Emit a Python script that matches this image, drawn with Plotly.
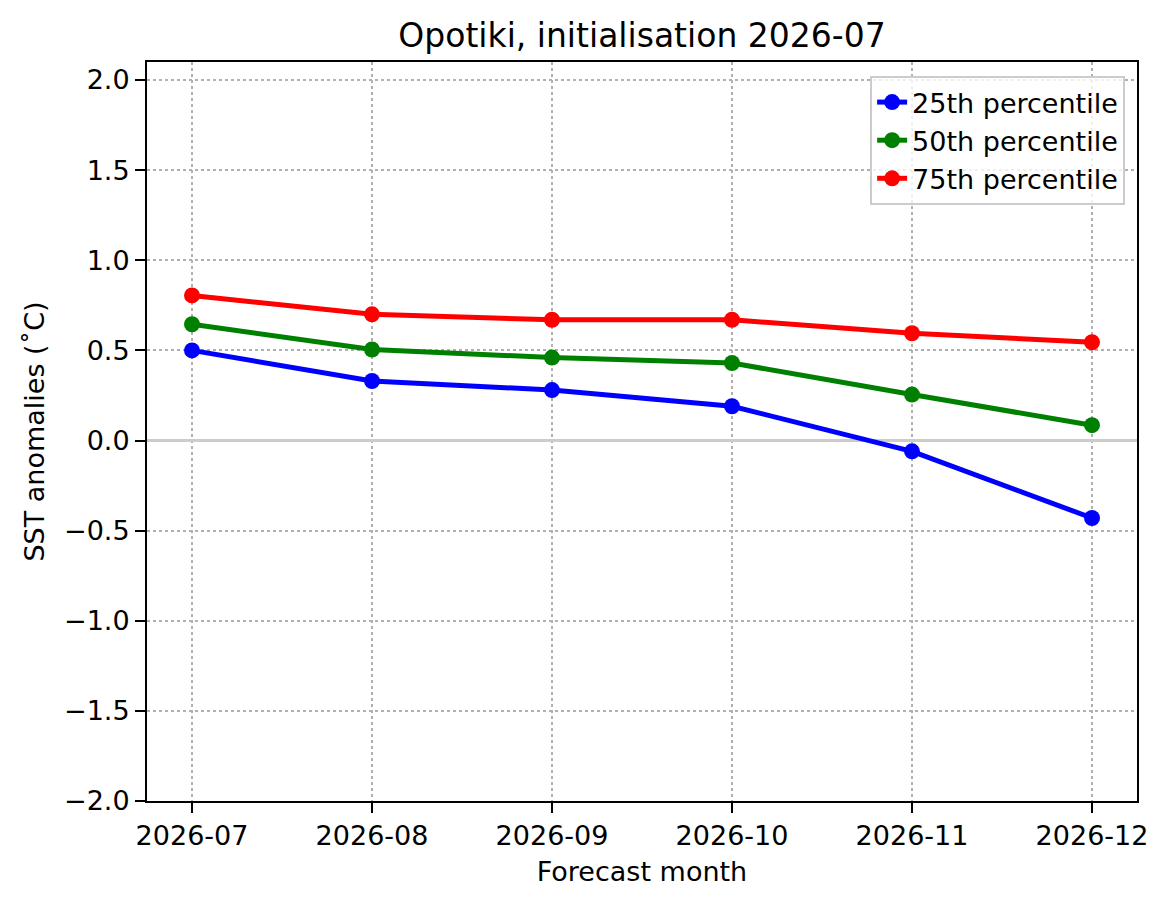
import plotly.graph_objects as go

# forecast months and the three percentile series (SST anomalies, deg C)
months = ["2026-07", "2026-08", "2026-09", "2026-10", "2026-11", "2026-12"]
p25 = [0.50, 0.33, 0.28, 0.19, -0.06, -0.43]
p50 = [0.645, 0.505, 0.46, 0.43, 0.255, 0.085]
p75 = [0.805, 0.70, 0.67, 0.67, 0.595, 0.545]

font = "DejaVu Sans"

fig = go.Figure()
for name, vals, col in [("25th percentile", p25, "blue"),
                        ("50th percentile", p50, "green"),
                        ("75th percentile", p75, "red")]:
    fig.add_trace(go.Scatter(x=months, y=vals, mode="lines+markers", name=name,
                             line=dict(color=col, width=5),
                             marker=dict(color=col, size=16)))

axis_common = dict(
    showline=True, linecolor="black", linewidth=2, mirror=True,
    ticks="outside", ticklen=10, tickwidth=2, tickcolor="black",
    showgrid=True, gridcolor="#b0b0b0", gridwidth=1.5, griddash="dot",
    tickfont=dict(family=font, size=27, color="black"),
)

fig.update_xaxes(axis_common, type="category", range=[-0.25, 5.25],
                 title=dict(text="Forecast month", font=dict(family=font, size=27, color="black"),
                            standoff=12))
fig.update_yaxes(axis_common, range=[-2.0, 2.1], dtick=0.5, tick0=0, tickformat=".1f",
                 zeroline=True, zerolinecolor="#cccccc", zerolinewidth=3,
                 title=dict(text="SST anomalies (˚C)", font=dict(family=font, size=27, color="black"),
                            standoff=12))

# page body has an 8px margin, so the figure is sized a bit smaller
fig.update_layout(
    width=1155, height=892,
    margin=dict(l=139, r=26, t=54, b=99),
    paper_bgcolor="white", plot_bgcolor="white",
    font=dict(family=font, color="black"),
    title=dict(text="Opotiki, initialisation 2026-07", xref="paper", x=0.5, xanchor="center",
               y=1 - 27 / 892, yanchor="middle",
               font=dict(family=font, size=33, color="black")),
    legend=dict(x=0.988, y=0.981, xanchor="right", yanchor="top",
                bgcolor="rgba(255,255,255,0.8)", bordercolor="#cccccc", borderwidth=2,
                font=dict(family=font, size=27, color="black")),
    showlegend=True,
)

fig.write_html("out.html")
